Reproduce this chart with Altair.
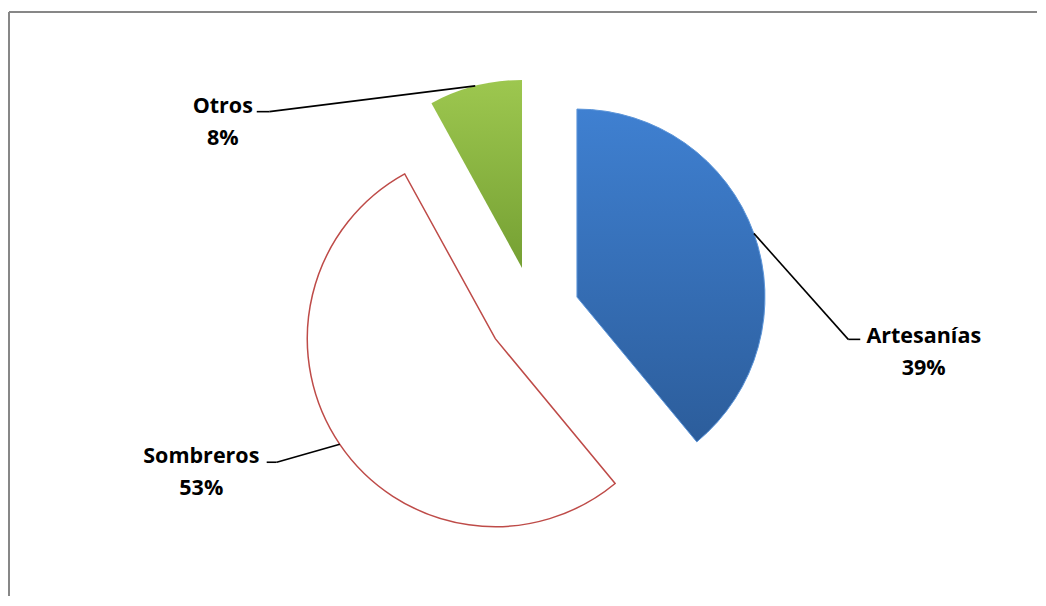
import altair as alt
import pandas as pd

# ---- data ----
categories = ["Artesanías", "Sombreros", "Otros"]
values = [39, 53, 8]

# ---- label layout (annotation styling, pixels) ----
elbow_dx = [94.4, -63.1, -205.9]
elbow_dy = [106.0, 17.9, 25.8]
stub_len = [12.0, -10.0, -12.6]
name_dx = [75.5, -75.4, -46.6]
name_dy = [3.4, 1.0, 1.0]

df = pd.DataFrame({
    "cat": categories,
    "value": values,
    "edx": elbow_dx,
    "edy": elbow_dy,
    "stub": stub_len,
    "ndx": name_dx,
    "ndy": name_dy,
})

W, H = 1028, 584
CX, CY = 524.5, 300.7   # pie centre (view px)
R = 188                 # radius
D = 46.2                # explosion distance
FONT = "Open Sans"

base = alt.Chart(df).transform_joinaggregate(
    total="sum(value)"
).transform_window(
    cum="sum(value)", frame=[None, 0]
).transform_calculate(
    t0="(datum.cum - datum.value) / datum.total * 2 * PI",
    t1="datum.cum / datum.total * 2 * PI",
).transform_calculate(
    mid="(datum.t0 + datum.t1) / 2",
).transform_calculate(
    vx=f"{CX} + {D} * sin(datum.mid)",
    vy=f"{CY} - {D} * cos(datum.mid)",
).transform_calculate(
    ex=f"datum.vx + {R} * sin(datum.mid)",
    ey=f"datum.vy - {R} * cos(datum.mid)",
).transform_calculate(
    bx="datum.ex + datum.edx",
    by="datum.ey + datum.edy",
).transform_calculate(
    sx="datum.bx + datum.stub",
    nx="datum.bx + datum.ndx",
    ny="datum.by + datum.ndy",
    pct="format(datum.value / datum.total, '.0%')",
).transform_calculate(
    py="datum.ny + 32",
)

def arc_layer(name, **mark_kw):
    return base.transform_filter(alt.datum.cat == name).mark_arc(
        radius=R, **mark_kw
    ).encode(
        x=alt.X("vx:Q", scale=None, axis=None),
        y=alt.Y("vy:Q", scale=None, axis=None),
        theta=alt.Theta("t0:Q", scale=None),
        theta2="t1:Q",
    )

blue = arc_layer(
    "Artesanías",
    fill=alt.Gradient(
        gradient="linear", x1=0, x2=0, y1=0, y2=1,
        stops=[alt.GradientStop(color="#3F80D1", offset=0),
               alt.GradientStop(color="#2C5D9B", offset=1)],
    ),
    stroke="#5C95D9", strokeWidth=1,
)
white = arc_layer("Sombreros", fill="#FFFFFF", stroke="#BE4B48", strokeWidth=1.5)
green = arc_layer(
    "Otros",
    fill=alt.Gradient(
        gradient="linear", x1=0, x2=0, y1=0, y2=1,
        stops=[alt.GradientStop(color="#9DC74F", offset=0),
               alt.GradientStop(color="#75A033", offset=1)],
    ),
)

leader1 = base.mark_rule(color="#000000", strokeWidth=1.6).encode(
    x=alt.X("ex:Q", scale=None), y=alt.Y("ey:Q", scale=None),
    x2="bx:Q", y2="by:Q",
)
leader2 = base.mark_rule(color="#000000", strokeWidth=1.6).encode(
    x=alt.X("bx:Q", scale=None), y=alt.Y("by:Q", scale=None),
    x2="sx:Q", y2="by:Q",
)

names = base.mark_text(
    font=FONT, fontSize=21.5, fontWeight="bold", color="#000000",
    align="center", baseline="alphabetic",
).encode(
    x=alt.X("nx:Q", scale=None), y=alt.Y("ny:Q", scale=None), text="cat:N",
)
pcts = base.mark_text(
    font=FONT, fontSize=21.5, fontWeight="bold", color="#000000",
    align="center", baseline="alphabetic",
).encode(
    x=alt.X("nx:Q", scale=None), y=alt.Y("py:Q", scale=None), text="pct:N",
)

frame_top = alt.Chart(df).mark_rule(color="#878787", strokeWidth=2).encode(
    x=alt.value(0), x2=alt.value(W + 40), y=alt.value(0)
)
frame_left = alt.Chart(df).mark_rule(color="#878787", strokeWidth=2).encode(
    x=alt.value(0), y=alt.value(0), y2=alt.value(H + 40)
)

chart = alt.layer(
    frame_top, frame_left, white, blue, green, leader1, leader2, names, pcts
).properties(
    width=W, height=H,
    autosize=alt.AutoSizeParams(type="none"),
    padding={"left": 1, "top": 4, "right": 0, "bottom": 0},
).configure_view(stroke=None)

chart.save("out.html", embed_options={"renderer": "svg", "actions": False})
